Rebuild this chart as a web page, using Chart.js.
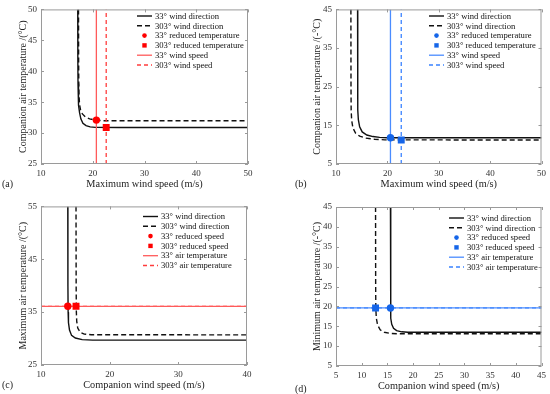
<!DOCTYPE html>
<html>
<head>
<meta charset="utf-8">
<script src="https://cdn.jsdelivr.net/npm/chart.js@4/dist/chart.umd.min.js"></script>
<style>
  body { margin: 0; background: #fff; }
  #wrap { position: relative; width: 550px; height: 394px; overflow: hidden; }
  .pan { position: absolute; }
  .tag { position: absolute; font: 10px "Liberation Serif", serif; color: #222; }
</style>
</head>
<body>
<div id="wrap">
  <div class="pan" style="left:0;top:0;width:275px;height:197px"><canvas id="ca"></canvas></div>
  <div class="pan" style="left:275px;top:0;width:275px;height:197px"><canvas id="cb"></canvas></div>
  <div class="pan" style="left:0;top:197px;width:275px;height:197px"><canvas id="cc"></canvas></div>
  <div class="pan" style="left:275px;top:197px;width:275px;height:197px"><canvas id="cd"></canvas></div>
  <div class="tag" style="left:2px;top:178px">(a)</div>
  <div class="tag" style="left:295px;top:178px">(b)</div>
  <div class="tag" style="left:2px;top:379px">(c)</div>
  <div class="tag" style="left:295px;top:383px">(d)</div>
</div>
<script>
// (a) maximum wind speed vs companion air temperature (hot)
var a33x = [17.1, 17.12, 17.15, 17.2, 17.3, 17.45, 17.7, 18.1, 18.7, 19.5, 20.5, 25, 50]
var a33y = [50, 42, 38, 36, 34.5, 33.3, 32.3, 31.6, 31.2, 31.0, 30.92, 30.9, 30.9]
var a303x = [17.25, 17.27, 17.3, 17.35, 17.45, 17.65, 18, 18.6, 19.4, 20.5, 22, 50]
var a303y = [50, 42, 38, 36, 34.6, 33.7, 33.1, 32.6, 32.3, 32.1, 32.0, 32.0]
var aPts = [[20.7, 32.1], [22.6, 30.9]]
var aRef = [20.7, 22.6]

// (b) maximum wind speed vs companion air temperature (cold)
var b33x = [14.2, 14.22, 14.25, 14.35, 14.6, 15.1, 16, 17.2, 18.5, 20, 50]
var b33y = [45, 25, 19, 16.5, 14.6, 13.3, 12.5, 12.1, 11.9, 11.8, 11.8]
var b303x = [12.9, 12.92, 12.95, 13.05, 13.3, 13.8, 14.6, 15.8, 17.5, 19.5, 50]
var b303y = [45, 25, 19, 16.3, 14.3, 13, 12.2, 11.7, 11.4, 11.25, 11.2]
var bPts = [[20.6, 11.8], [22.7, 11.2]]
var bRef = [20.6, 22.7]

// (c) companion wind speed vs maximum air temperature
var c33x = [13.9, 13.92, 13.95, 14.0, 14.15, 14.45, 15, 16, 17.5, 40]
var c33y = [55, 40, 35, 33, 31.6, 30.6, 30.1, 29.8, 29.7, 29.7]
var c303x = [15.1, 15.12, 15.15, 15.2, 15.35, 15.7, 16.3, 17.3, 40]
var c303y = [55, 40, 35, 33.3, 32, 31.2, 30.85, 30.72, 30.7]
var cPts = [[13.9, 36.1], [15.1, 36.1]]
var cRef = [36.1, 36.1]

// (d) companion wind speed vs minimum air temperature
var d33x = [15.6, 15.62, 15.65, 15.7, 15.85, 16.2, 16.8, 17.8, 19, 45]
var d33y = [45, 25, 19.5, 17, 15.5, 14.5, 13.9, 13.6, 13.5, 13.5]
var d303x = [12.7, 12.72, 12.75, 12.85, 13.1, 13.6, 14.4, 15.6, 17, 45]
var d303y = [45, 25, 19.5, 17, 15.3, 14.1, 13.5, 13.2, 13.1, 13.1]
var dPts = [[15.6, 19.6], [12.7, 19.6]]
var dRef = [19.6, 19.6]

var labsT = ['33° wind direction', '303° wind direction', '33° reduced temperature', '303° reduced temperature', '33° wind speed', '303° wind speed']
var labsS = ['33° wind direction', '303° wind direction', '33° reduced speed', '303° reduced speed', '33° air temperature', '303° air temperature']

var serif = '"Liberation Serif", "Times New Roman", serif'

function xy(xs, ys) {
  return xs.map(function (x, i) { return {x: x, y: ys[i]} })
}

// box + inward ticks like the original plots
var frame = {
  id: 'frame',
  afterDatasetsDraw: function (chart) {
    var c = chart.ctx, a = chart.chartArea
    var sx = chart.scales.x, sy = chart.scales.y
    c.save()
    c.strokeStyle = '#9a9a9a'
    c.lineWidth = 1
    c.strokeRect(a.left + 0.5, a.top + 0.5, a.right - a.left - 1, a.bottom - a.top - 1)
    sx.ticks.forEach(function (t) {
      var px = Math.round(sx.getPixelForValue(t.value)) + 0.5
      c.beginPath()
      c.moveTo(px, a.bottom); c.lineTo(px, a.bottom - 3)
      c.moveTo(px, a.top); c.lineTo(px, a.top + 3)
      c.stroke()
    })
    sy.ticks.forEach(function (t) {
      var py = Math.round(sy.getPixelForValue(t.value)) + 0.5
      c.beginPath()
      c.moveTo(a.left, py); c.lineTo(a.left + 3, py)
      c.moveTo(a.right, py); c.lineTo(a.right - 3, py)
      c.stroke()
    })
    c.restore()
  }
}

// legend drawn inside the plot, without a box
var boxLegend = {
  id: 'boxLegend',
  afterDraw: function (chart, args, o) {
    var c = chart.ctx
    c.save()
    c.font = '8.6px ' + serif
    c.textBaseline = 'middle'
    c.fillStyle = '#111'
    chart.data.datasets.forEach(function (ds, i) {
      var y = o.y0 + i * o.dy
      if (ds.showLine) {
        c.strokeStyle = ds.borderColor
        c.lineWidth = ds.borderWidth
        c.setLineDash(ds.borderDash || [])
        c.beginPath()
        c.moveTo(o.x1, y); c.lineTo(o.x2, y)
        c.stroke()
        c.setLineDash([])
      } else {
        var m = (o.x1 + o.x2) / 2
        c.fillStyle = ds.backgroundColor
        if (ds.pointStyle === 'rect') c.fillRect(m - 2.2, y - 2.2, 4.4, 4.4)
        else { c.beginPath(); c.arc(m, y, 2.3, 0, Math.PI * 2); c.fill() }
        c.fillStyle = '#111'
      }
      c.fillText(ds.label, o.tx, y + 0.5)
    })
    c.restore()
  }
}

function makeChart(id, p) {
  var ds = [
    {label: p.labs[0], data: xy(p.s33x, p.s33y), showLine: true, borderColor: '#111', borderWidth: 1.4, pointRadius: 0, order: 3},
    {label: p.labs[1], data: xy(p.s303x, p.s303y), showLine: true, borderColor: '#111', borderWidth: 1.4, borderDash: [5, 3], pointRadius: 0, order: 3},
    {label: p.labs[2], data: [{x: p.pts[0][0], y: p.pts[0][1]}], showLine: false, pointStyle: 'circle', pointRadius: 3.7, backgroundColor: p.mark, borderColor: p.mark, borderWidth: 0, order: 0},
    {label: p.labs[3], data: [{x: p.pts[1][0], y: p.pts[1][1]}], showLine: false, pointStyle: 'rect', pointRadius: 4.9, backgroundColor: p.mark, borderColor: p.mark, borderWidth: 0, order: 0},
    {label: p.labs[4], data: p.vert ? [{x: p.ref[0], y: p.ymin}, {x: p.ref[0], y: p.ymax}] : [{x: p.xmin, y: p.ref[0]}, {x: p.xmax, y: p.ref[0]}], showLine: true, borderColor: p.line, borderWidth: 1.3, pointRadius: 0, order: 1},
    {label: p.labs[5], data: p.vert ? [{x: p.ref[1], y: p.ymin}, {x: p.ref[1], y: p.ymax}] : [{x: p.xmin, y: p.ref[1]}, {x: p.xmax, y: p.ref[1]}], showLine: true, borderColor: p.line2, borderWidth: 1.3, borderDash: [4, 3], pointRadius: 0, order: 1}
  ]
  new Chart(document.getElementById(id), {
    type: 'scatter',
    data: {datasets: ds},
    options: {
      responsive: true,
      maintainAspectRatio: false,
      animation: false,
      events: [],
      layout: {padding: {left: 0, top: p.top, right: p.right, bottom: 0}},
      plugins: {legend: {display: false}, tooltip: {enabled: false}, boxLegend: p.leg},
      scales: {
        x: {
          type: 'linear', min: p.xmin, max: p.xmax,
          grid: {display: false, drawTicks: false, tickLength: 0},
          border: {display: false},
          ticks: {stepSize: p.xstep, padding: 4, color: '#333', font: {family: serif, size: 9}},
          title: {display: true, text: p.xt, color: '#222', font: {family: serif, size: 10.3}, padding: {top: 0, bottom: p.xtp}},
          afterFit: function (s) { s.height = p.bot }
        },
        y: {
          type: 'linear', min: p.ymin, max: p.ymax,
          grid: {display: false, drawTicks: false, tickLength: 0},
          border: {display: false},
          ticks: {stepSize: p.ystep, padding: 4, color: '#333', font: {family: serif, size: 9}},
          title: {display: true, text: p.yt, color: '#222', font: {family: serif, size: 10}, padding: {top: p.ytp, bottom: 0}},
          afterFit: function (s) { s.width = p.left }
        }
      }
    },
    plugins: [frame, boxLegend]
  })
}

makeChart('ca', {
  s33x: a33x, s33y: a33y, s303x: a303x, s303y: a303y, pts: aPts, ref: aRef, vert: true,
  labs: labsT, mark: '#ff0000', line: '#ff5a5a', line2: '#ff3c3c',
  xmin: 10, xmax: 50, xstep: 10, ymin: 25, ymax: 50, ystep: 5,
  xt: 'Maximum wind speed (m/s)', yt: 'Companion air temperature /(°C)',
  left: 41, top: 5, right: 27, bot: 33, ytp: 17, xtp: 7,
  leg: {x1: 137, x2: 152, tx: 155, y0: 16, dy: 9.8}
})
makeChart('cb', {
  s33x: b33x, s33y: b33y, s303x: b303x, s303y: b303y, pts: bPts, ref: bRef, vert: true,
  labs: labsT, mark: '#1565e8', line: '#4a8cff', line2: '#3a82ff',
  xmin: 10, xmax: 50, xstep: 10, ymin: 5, ymax: 45, ystep: 10,
  xt: 'Maximum wind speed (m/s)', yt: 'Companion air temperature /(-°C)',
  left: 61, top: 5, right: 7, bot: 33, ytp: 36, xtp: 7,
  leg: {x1: 154, x2: 169, tx: 172, y0: 16, dy: 9.8}
})
makeChart('cc', {
  s33x: c33x, s33y: c33y, s303x: c303x, s303y: c303y, pts: cPts, ref: cRef, vert: false,
  labs: labsS, mark: '#ff0000', line: '#ff5a5a', line2: '#ff3c3c',
  xmin: 10, xmax: 40, xstep: 10, ymin: 25, ymax: 55, ystep: 10,
  xt: 'Companion wind speed (m/s)', yt: 'Maximum air temperature /(°C)',
  left: 41, top: 9, right: 28, bot: 29, ytp: 17, xtp: 3,
  leg: {x1: 143, x2: 158, tx: 161, y0: 19.5, dy: 9.8}
})
makeChart('cd', {
  s33x: d33x, s33y: d33y, s303x: d303x, s303y: d303y, pts: dPts, ref: dRef, vert: false,
  labs: labsS, mark: '#1565e8', line: '#4a8cff', line2: '#3a82ff',
  xmin: 5, xmax: 45, xstep: 5, ymin: 5, ymax: 45, ystep: 5,
  xt: 'Companion wind speed (m/s)', yt: 'Minimum air temperature /(-°C)',
  left: 61, top: 10, right: 7, bot: 28, ytp: 36, xtp: 2,
  leg: {x1: 174, x2: 189, tx: 192, y0: 21, dy: 9.8}
})
</script>
</body>
</html>
